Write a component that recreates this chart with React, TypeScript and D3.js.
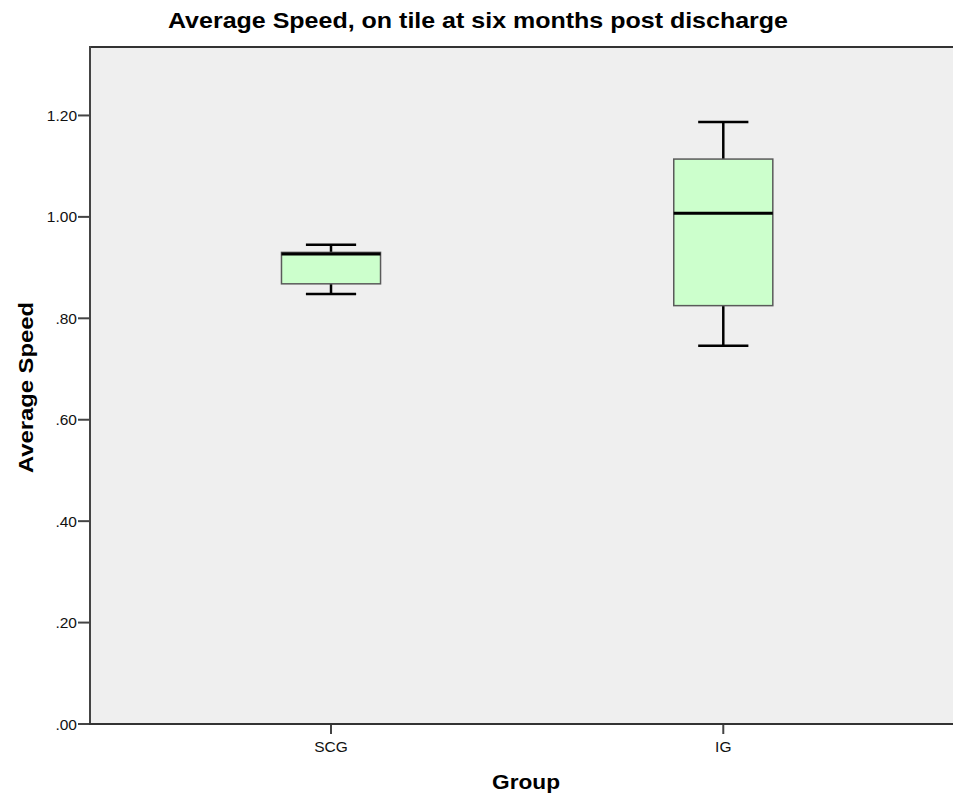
import React from "react";
import * as d3 from "d3";

const groups = ["SCG", "IG"];
const whiskerLow = [0.848, 0.746];
const q1 = [0.868, 0.825];
const median = [0.927, 1.007];
const q3 = [0.930, 1.114];
const whiskerHigh = [0.945, 1.187];
const yTicks = [0, 0.2, 0.4, 0.6, 0.8, 1.0, 1.2];
const yMax = 1.335;

const W = 953;
const H = 801;
const L = 90;
const R = 953;
const T = 47;
const B = 724;

export default function App() {
  const x = d3.scalePoint<string>().domain(groups).range([L, R]).padding(0.6).align(0.512);
  const y = d3.scaleLinear().domain([0, yMax]).range([B, T]);
  const step = x.step();
  const boxW = step * 0.2525;
  const capW = step * 0.128;
  const fmt = (v: number) => {
    const s = d3.format(".2f")(v);
    return s.startsWith("0") ? s.slice(1) : s;
  };
  const font = "'Liberation Sans', Arial, sans-serif";
  return (
    <svg width={W} height={H} style={{ position: "absolute", left: 0, top: 0, background: "#fff" }} fontFamily={font}>
      <rect x={L} y={T} width={R - L} height={B - T} fill="#efefef" />
      <text x={478} y={28} fontSize={21.5} fontWeight="bold" textAnchor="middle" textLength={620} lengthAdjust="spacingAndGlyphs" fill="#000">
        Average Speed, on tile at six months post discharge
      </text>
      {groups.map((g, i) => {
        const cx = x(g) as number;
        return (
          <g key={g}>
            <line x1={cx} x2={cx} y1={y(whiskerHigh[i])} y2={y(q3[i])} stroke="#000" strokeWidth={2.5} />
            <line x1={cx} x2={cx} y1={y(q1[i])} y2={y(whiskerLow[i])} stroke="#000" strokeWidth={2.5} />
            <line x1={cx - capW / 2} x2={cx + capW / 2} y1={y(whiskerHigh[i])} y2={y(whiskerHigh[i])} stroke="#000" strokeWidth={2.5} />
            <line x1={cx - capW / 2} x2={cx + capW / 2} y1={y(whiskerLow[i])} y2={y(whiskerLow[i])} stroke="#000" strokeWidth={2.5} />
            <rect x={cx - boxW / 2} y={y(q3[i])} width={boxW} height={y(q1[i]) - y(q3[i])} fill="#ccffcc" stroke="#5a5a5a" strokeWidth={1.5} />
            <line x1={cx - boxW / 2} x2={cx + boxW / 2} y1={y(median[i])} y2={y(median[i])} stroke="#000" strokeWidth={3} />
            <line x1={cx} x2={cx} y1={B} y2={B + 10} stroke="#444" strokeWidth={2} />
            <text x={cx} y={752} fontSize={15.5} textAnchor="middle" fill="#111">{g}</text>
          </g>
        );
      })}
      {yTicks.map((t) => (
        <g key={t}>
          <line x1={L - 12} x2={L} y1={y(t)} y2={y(t)} stroke="#444" strokeWidth={2} />
          <text x={L - 13} y={y(t)} dy="0.36em" fontSize={15.5} textAnchor="end" fill="#111">{fmt(t)}</text>
        </g>
      ))}
      <line x1={L} x2={R} y1={T} y2={T} stroke="#333" strokeWidth={2} />
      <line x1={L} x2={L} y1={T - 1} y2={B + 1} stroke="#444" strokeWidth={2} />
      <line x1={L - 1} x2={R} y1={B} y2={B} stroke="#333" strokeWidth={2} />
      <text transform={`translate(33,387.5) rotate(-90)`} fontSize={21} fontWeight="bold" textAnchor="middle" textLength={171} lengthAdjust="spacingAndGlyphs" fill="#000">
        Average Speed
      </text>
      <text x={526} y={789} fontSize={21} fontWeight="bold" textAnchor="middle" textLength={68} lengthAdjust="spacingAndGlyphs" fill="#000">
        Group
      </text>
    </svg>
  );
}
